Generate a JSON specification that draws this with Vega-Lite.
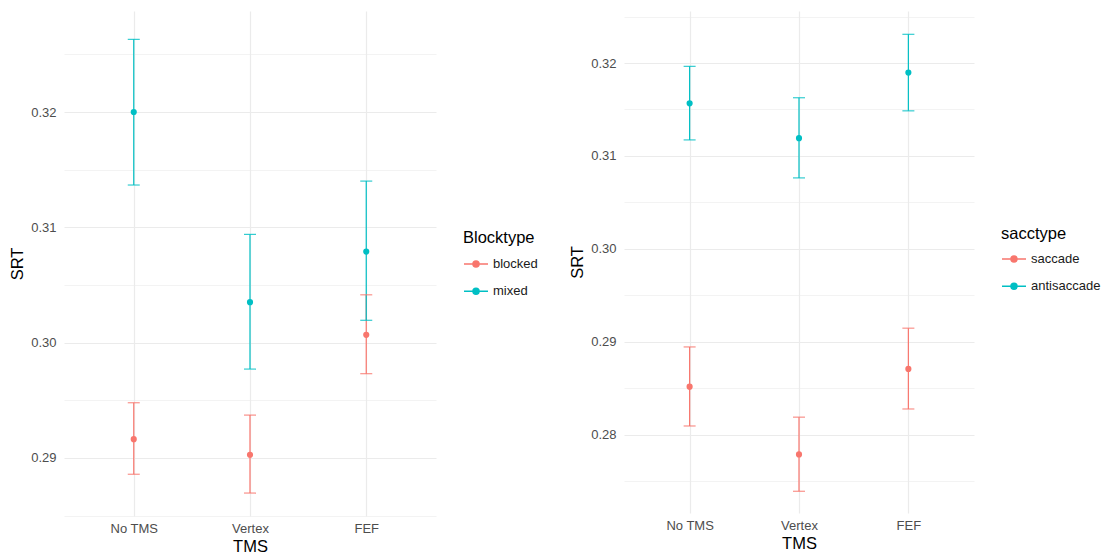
{
  "$schema": "https://vega.github.io/schema/vega-lite/v6.json",
  "padding": {"left": 9, "top": 10, "right": 0, "bottom": 0},
  "background": "white",
  "datasets": {
    "block": [
      {"TMS": "No TMS", "Blocktype": "blocked", "SRT": 0.29163, "lower": 0.28859, "upper": 0.29479},
      {"TMS": "Vertex", "Blocktype": "blocked", "SRT": 0.29028, "lower": 0.28696, "upper": 0.29372},
      {"TMS": "FEF", "Blocktype": "blocked", "SRT": 0.30068, "lower": 0.29731, "upper": 0.30415},
      {"TMS": "No TMS", "Blocktype": "mixed", "SRT": 0.32, "lower": 0.31367, "upper": 0.3263},
      {"TMS": "Vertex", "Blocktype": "mixed", "SRT": 0.30351, "lower": 0.29771, "upper": 0.30939},
      {"TMS": "FEF", "Blocktype": "mixed", "SRT": 0.3079, "lower": 0.30194, "upper": 0.31401}
    ],
    "sacc": [
      {"TMS": "No TMS", "sacctype": "saccade", "SRT": 0.28515, "lower": 0.28092, "upper": 0.28943},
      {"TMS": "Vertex", "sacctype": "saccade", "SRT": 0.27786, "lower": 0.27389, "upper": 0.28187},
      {"TMS": "FEF", "sacctype": "saccade", "SRT": 0.28706, "lower": 0.28275, "upper": 0.29145},
      {"TMS": "No TMS", "sacctype": "antisaccade", "SRT": 0.31566, "lower": 0.31172, "upper": 0.31964},
      {"TMS": "Vertex", "sacctype": "antisaccade", "SRT": 0.31191, "lower": 0.30763, "upper": 0.31626},
      {"TMS": "FEF", "sacctype": "antisaccade", "SRT": 0.31897, "lower": 0.31485, "upper": 0.32309}
    ]
  },
  "spacing": 188,
  "bounds": "flush",
  "resolve": {"scale": {"color": "independent", "y": "independent"}, "legend": {"color": "independent"}},
  "hconcat": [
    {
      "data": {"name": "block"},
      "width": 372,
      "height": 505,
      "encoding": {
        "x": {"field": "TMS", "type": "nominal", "sort": ["No TMS", "Vertex", "FEF"], "scale": {"type": "point", "padding": 0.6}, "title": "TMS"},
        "color": {"field": "Blocktype", "type": "nominal", "scale": {"domain": ["blocked", "mixed"], "range": ["#F8766D", "#00BFC4"]},
          "legend": {"title": "Blocktype", "legendX": 399, "legendY": 219, "titlePadding": 10.5,
            "encode": {"symbols": {"update": {"stroke": {"signal": "datum.value == 'blocked' ? '#F8766D' : '#00BFC4'"}, "fill": {"signal": "datum.value == 'blocked' ? '#F8766D' : '#00BFC4'"}, "strokeWidth": {"value": 1.5}, "opacity": {"value": 1}}}}}}
      },
      "layer": [
        {"mark": {"type": "rule", "strokeWidth": 1.2},
         "encoding": {"y": {"field": "lower", "type": "quantitative", "title": "SRT",
            "scale": {"domain": [0.28497, 0.32876], "zero": false, "nice": false},
            "axis": {"values": [0.285, 0.29, 0.295, 0.3, 0.305, 0.31, 0.315, 0.32, 0.325],
              "labelExpr": "round(datum.value*1000) % 10 == 0 ? format(datum.value, '.2f') : ''",
              "gridWidth": {"condition": {"test": "round(datum.value*1000) % 10 != 0", "value": 0.6}, "value": 1.2}}},
          "y2": {"field": "upper"}}},
        {"mark": {"type": "tick", "size": 12, "thickness": 1.2, "opacity": 0.8},
         "encoding": {"y": {"field": "lower", "type": "quantitative", "title": "SRT"}}},
        {"mark": {"type": "tick", "size": 12, "thickness": 1.2, "opacity": 0.8},
         "encoding": {"y": {"field": "upper", "type": "quantitative", "title": "SRT"}}},
        {"mark": {"type": "point", "filled": true, "size": 38, "opacity": 1},
         "encoding": {"y": {"field": "SRT", "type": "quantitative", "title": "SRT"}}}
      ]
    },
    {
      "data": {"name": "sacc"},
      "width": 350,
      "height": 502,
      "encoding": {
        "x": {"field": "TMS", "type": "nominal", "sort": ["No TMS", "Vertex", "FEF"], "scale": {"type": "point", "padding": 0.6}, "title": "TMS"},
        "color": {"field": "sacctype", "type": "nominal", "scale": {"domain": ["saccade", "antisaccade"], "range": ["#F8766D", "#00BFC4"]},
          "legend": {"title": "sacctype", "legendX": 377, "legendY": 215, "titlePadding": 9.5,
            "encode": {"symbols": {"update": {"stroke": {"signal": "datum.value == 'saccade' ? '#F8766D' : '#00BFC4'"}, "fill": {"signal": "datum.value == 'saccade' ? '#F8766D' : '#00BFC4'"}, "strokeWidth": {"value": 1.5}, "opacity": {"value": 1}}}}}}
      },
      "layer": [
        {"mark": {"type": "rule", "strokeWidth": 1.2},
         "encoding": {"y": {"field": "lower", "type": "quantitative", "title": "SRT",
            "scale": {"domain": [0.27155, 0.3256], "zero": false, "nice": false},
            "axis": {"values": [0.275, 0.28, 0.285, 0.29, 0.295, 0.3, 0.305, 0.31, 0.315, 0.32, 0.325],
              "labelExpr": "round(datum.value*1000) % 10 == 0 ? format(datum.value, '.2f') : ''",
              "gridWidth": {"condition": {"test": "round(datum.value*1000) % 10 != 0", "value": 0.6}, "value": 1.2}}},
          "y2": {"field": "upper"}}},
        {"mark": {"type": "tick", "size": 12, "thickness": 1.2, "opacity": 0.8},
         "encoding": {"y": {"field": "lower", "type": "quantitative", "title": "SRT"}}},
        {"mark": {"type": "tick", "size": 12, "thickness": 1.2, "opacity": 0.8},
         "encoding": {"y": {"field": "upper", "type": "quantitative", "title": "SRT"}}},
        {"mark": {"type": "point", "filled": true, "size": 38, "opacity": 1},
         "encoding": {"y": {"field": "SRT", "type": "quantitative", "title": "SRT"}}}
      ]
    }
  ],
  "config": {
    "font": "Liberation Sans",
    "view": {"stroke": null},
    "axis": {
      "domain": false, "ticks": false, "grid": true, "gridColor": "#ebebeb",
      "labelFont": "Liberation Sans", "labelFontSize": 13, "labelColor": "#4d4d4d",
      "titleFont": "Liberation Sans", "titleFontSize": 16.5, "titleFontWeight": "normal", "titleColor": "#000000",
      "labelOverlap": false, "labelFlush": false
    },
    "axisX": {"labelAngle": 0, "labelPadding": 6, "titlePadding": 3, "gridWidth": 1.2},
    "axisY": {"labelPadding": 8, "titlePadding": 5},
    "legend": {
      "orient": "none",
      "titleFont": "Liberation Sans", "titleFontSize": 16.5, "titleFontWeight": "normal", "titleColor": "#000000",
      "labelFont": "Liberation Sans", "labelFontSize": 13, "labelColor": "#1a1a1a", "labelOffset": 4,
      "symbolType": "M-1,0L1,0M-0.25,0A0.25,0.25,0,1,0,0.25,0A0.25,0.25,0,1,0,-0.25,0Z",
      "symbolSize": 576, "symbolStrokeWidth": 1.5, "clipHeight": 14, "rowPadding": 13.2
    }
  }
}
